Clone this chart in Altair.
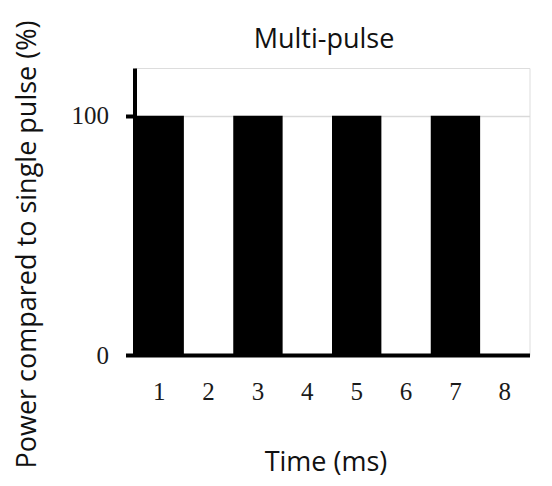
import altair as alt
import pandas as pd

time_ms = ["1", "2", "3", "4", "5", "6", "7", "8"]
power_pct = [100, 0, 100, 0, 100, 0, 100, 0]
y_ticks = [0, 100]

df = pd.DataFrame({"time": time_ms, "power": power_pct})

chart = alt.Chart(df).mark_bar(color="black").encode(
    x=alt.X(
        "time:O",
        sort=time_ms,
        scale=alt.Scale(paddingInner=0, paddingOuter=0),
        axis=alt.Axis(
            title="Time (ms)",
            labelAngle=0,
            ticks=False,
            tickSize=0,
            labelPadding=24,
            labelFont="Liberation Serif",
            labelFontSize=25,
            labelColor="#1a1a1a",
            domainColor="black",
            domainWidth=4,
            grid=False,
            titleFont="Open Sans",
            titleFontSize=27,
            titleFontWeight="normal",
            titleColor="#111111",
            titleBaseline="alphabetic",
            titleAlign="center",
            titleX=191,
            titleY=115,
        ),
    ),
    y=alt.Y(
        "power:Q",
        scale=alt.Scale(domain=[0, 120], nice=False),
        axis=alt.Axis(
            title="Power compared to single pulse (%)",
            values=y_ticks,
            tickSize=9,
            tickWidth=4,
            tickColor="black",
            labelPadding=17,
            labelFont="Liberation Serif",
            labelFontSize=25,
            labelColor="#1a1a1a",
            domainColor="black",
            domainWidth=4,
            grid=True,
            gridColor="#d9d9d9",
            gridWidth=1.5,
            titleFont="Open Sans",
            titleFontSize=27,
            titleFontWeight="normal",
            titleColor="#111111",
            titleBaseline="alphabetic",
            titleAlign="center",
            titleAngle=270,
            titleX=-99,
            titleY=176,
        ),
    ),
).properties(
    width=395,
    height=287,
    title=alt.TitleParams(
        text="Multi-pulse",
        font="Open Sans",
        fontSize=27,
        fontWeight="normal",
        color="#111111",
        anchor="middle",
        frame="group",
        dx=-8,
        dy=50,
        offset=16,
    ),
    autosize=alt.AutoSizeParams(type="none"),
    padding={"left": 126.5, "top": 60, "right": 14.5, "bottom": 123},
).configure_view(stroke=None).configure(background="white")

chart.save("out.html", embed_options={"renderer": "svg", "actions": False})
